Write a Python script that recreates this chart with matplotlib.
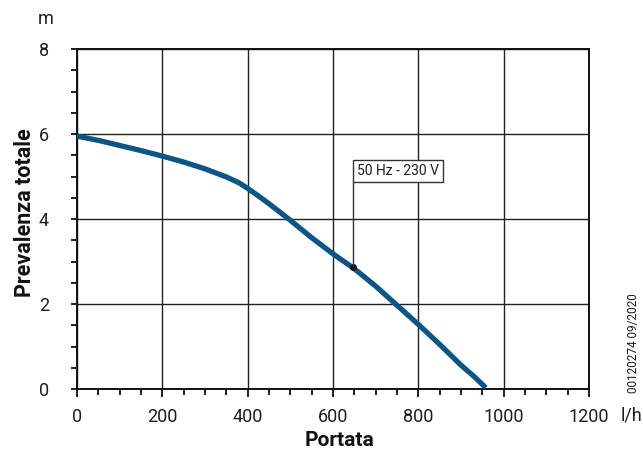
import matplotlib
matplotlib.use("Agg")
import matplotlib.pyplot as plt
from matplotlib.ticker import MultipleLocator

# Data
flow = [0, 50, 100, 150, 200, 250, 300, 350, 380, 400, 420, 450, 500, 550, 600,
        650, 700, 750, 800, 850, 900, 930, 958]
head = [5.95, 5.85, 5.73, 5.61, 5.48, 5.34, 5.18, 4.99, 4.85, 4.72, 4.58, 4.36, 3.97, 3.56, 3.18,
        2.83, 2.42, 1.97, 1.52, 1.05, 0.56, 0.30, 0.03]
x_ticks = [0, 200, 400, 600, 800, 1000, 1200]
y_ticks = [0, 2, 4, 6, 8]
label_point = (648, 2.86)
label_text = "50 Hz - 230 V"

FONT = ["Roboto", "DejaVu Sans"]
TXT = "#1e1e1e"

fig = plt.figure(figsize=(6.43, 4.54), dpi=100)
ax = fig.add_axes([77/643, 1-389/454, (589-77)/643, (389-49)/454])

ax.set_xlim(0, 1200)
ax.set_ylim(0, 8)
ax.set_xticks(x_ticks)
ax.set_yticks(y_ticks)
ax.xaxis.set_minor_locator(MultipleLocator(50))
ax.yaxis.set_minor_locator(MultipleLocator(0.5))
ax.grid(True, which="major", color="#222222", linewidth=1.0)
ax.set_axisbelow(True)

for s in ax.spines.values():
    s.set_linewidth(1.4)
    s.set_color("#111111")

ax.tick_params(axis="x", which="major", direction="out", length=6, width=1.3, pad=8, colors="#111111")
ax.tick_params(axis="x", which="minor", direction="out", length=4.5, width=1.3, colors="#111111")
ax.tick_params(axis="y", which="major", direction="out", length=4.3, width=1.3, pad=16, colors="#111111")
ax.tick_params(axis="y", which="minor", direction="out", length=4.3, width=1.3, colors="#111111")
for lab in ax.get_xticklabels() + ax.get_yticklabels():
    lab.set_fontfamily(FONT)
    lab.set_fontsize(13)
    lab.set_color(TXT)

ax.plot(flow, head, color="#0b5687", linewidth=3.8, solid_capstyle="butt",
        solid_joinstyle="round", zorder=3)

ax.plot([label_point[0]], [label_point[1]], marker="o", markersize=4, color="#111111", zorder=4)
# leader line from the point up to the label box
ax.annotate("", xy=label_point, xycoords="data",
            xytext=(0, 85), textcoords="offset pixels",
            arrowprops=dict(arrowstyle="-", color="#333333", lw=1.0, shrinkA=0, shrinkB=0),
            zorder=4)
ax.annotate(label_text, xy=label_point, xycoords="data",
            xytext=(3.8, 89.5), textcoords="offset pixels",
            ha="left", va="bottom", fontsize=10, family=FONT, color=TXT,
            bbox=dict(boxstyle="square,pad=0.3", fc="white", ec="#333333", lw=1.0),
            zorder=5)

ax.set_xlabel("Portata", family=FONT, fontweight="bold", fontsize=15, color="#111111")
ax.set_ylabel("Prevalenza totale", family=FONT, fontweight="bold", fontsize=15.5, color="#111111")
ax.xaxis.set_label_coords((340-77)/512, -(440-389)/340)
ax.yaxis.set_label_coords(-(77-25)/512, (389-213)/340)
ax.xaxis.label.set_va("center")
ax.yaxis.label.set_va("center")

fig.text(46/643, 1-19/454, "m", ha="center", va="center", family=FONT,
         fontsize=13, color=TXT)
fig.text(631/643, 1-415/454, "l/h", ha="center", va="center", family=FONT,
         fontsize=13, color=TXT)
fig.text(634/643, 1-343/454, "00120274 09/2020", ha="center", va="center", rotation=90,
         family=FONT, fontsize=8.5, color=TXT)

fig.savefig("out.png", dpi=100)
